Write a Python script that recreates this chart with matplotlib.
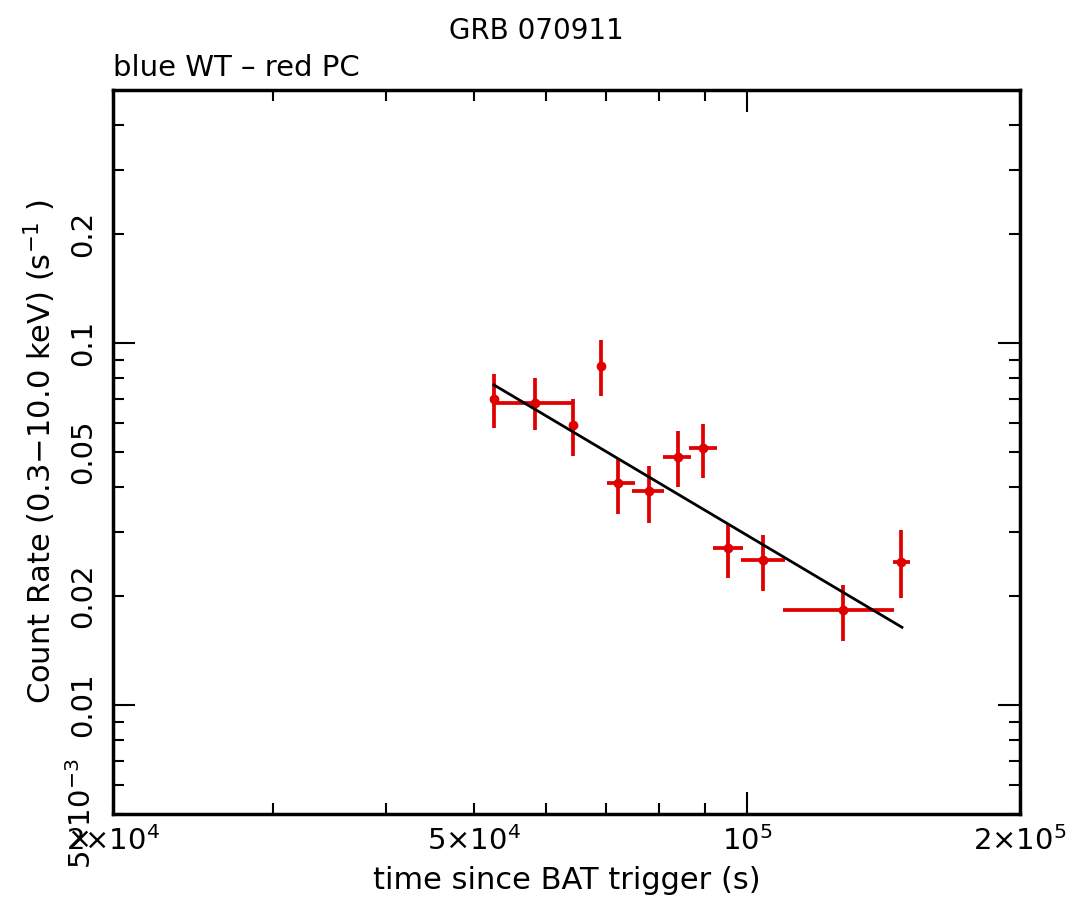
import matplotlib
matplotlib.use("Agg")
import matplotlib.pyplot as plt
from matplotlib.ticker import FixedLocator, NullFormatter
import numpy as np

plt.rcParams['font.family'] = ['DejaVu Sans']
plt.rcParams['mathtext.fontset'] = 'dejavusans'

# PC data: time since trigger (s), bin edges, count rate and its limits
t = [52600, 58400, 64300, 69000, 72100, 78000, 84000, 89500, 95300, 104200, 127600, 147800]
t_lo = [52100, 52600, 63800, 68500, 70100, 74700, 80800, 86300, 91800, 98500, 109600, 144900]
t_hi = [53100, 64300, 64800, 69500, 75300, 81000, 86800, 92700, 99000, 110100, 145200, 151300]
rate = [0.0701, 0.0684, 0.0595, 0.0864, 0.0411, 0.0389, 0.0485, 0.0514, 0.0271, 0.0251, 0.0183, 0.0249]
rate_lo = [0.0583, 0.0576, 0.0488, 0.0715, 0.0338, 0.0319, 0.0399, 0.0425, 0.0224, 0.0207, 0.0150, 0.0197]
rate_hi = [0.0822, 0.0801, 0.0701, 0.1019, 0.0479, 0.0458, 0.0572, 0.0598, 0.0317, 0.0294, 0.0215, 0.0305]

# power-law fit end points
fit_t = [52600, 148200]
fit_rate = [0.0766, 0.0164]

xlab_vals = [2e4, 5e4, 1e5, 2e5]
xlab_txt = [r'2×10$^{4}$', r'5×10$^{4}$', r'10$^{5}$', r'2×10$^{5}$']
ylab_vals = [0.005, 0.01, 0.02, 0.05, 0.1, 0.2]
ylab_txt = [r'5×10$^{-3}$', '0.01', '0.02', '0.05', '0.1', '0.2']

t = np.array(t); rate = np.array(rate)
xerr = [t - np.array(t_lo), np.array(t_hi) - t]
yerr = [rate - np.array(rate_lo), np.array(rate_hi) - rate]

fig = plt.figure(figsize=(10.72, 8.99), dpi=100)
ax = fig.add_axes([0.1054, 0.0945, 0.8461, 0.8055])

ax.errorbar(t, rate, xerr=xerr, yerr=yerr, fmt='o', color='#e00000', ms=6,
            elinewidth=2.7, capsize=0, zorder=3)
ax.plot(fit_t, fit_rate, color='black', lw=2, zorder=4)

ax.set_xscale('log')
ax.set_yscale('log')
ax.set_xlim(2e4, 2e5)
ax.set_ylim(5e-3, 0.5)

ax.xaxis.set_major_locator(FixedLocator([1e5]))
ax.xaxis.set_minor_locator(FixedLocator([2e4, 3e4, 4e4, 5e4, 6e4, 7e4, 8e4, 9e4, 2e5]))
ax.xaxis.set_major_formatter(NullFormatter())
ax.xaxis.set_minor_formatter(NullFormatter())
ax.yaxis.set_major_locator(FixedLocator([0.01, 0.1]))
ax.yaxis.set_minor_locator(FixedLocator([0.005, 0.006, 0.007, 0.008, 0.009, 0.02, 0.03, 0.04,
                                         0.05, 0.06, 0.07, 0.08, 0.09, 0.2, 0.3, 0.4]))
ax.yaxis.set_major_formatter(NullFormatter())
ax.yaxis.set_minor_formatter(NullFormatter())
ax.tick_params(which='both', direction='in', top=True, right=True, width=1.5)
ax.tick_params(which='major', length=16)
ax.tick_params(which='minor', length=8)
for s in ax.spines.values():
    s.set_linewidth(2.5)

for v, s in zip(xlab_vals, xlab_txt):
    ax.text(v, -0.016, s, transform=ax.get_xaxis_transform(), ha='center', va='top', fontsize=21)
for v, s in zip(ylab_vals, ylab_txt):
    ax.text(-0.018, v, s, transform=ax.get_yaxis_transform(), ha='center', va='bottom',
            rotation=90, rotation_mode='anchor', fontsize=21)

ax.set_xlabel('time since BAT trigger (s)', fontsize=22, labelpad=34)
ax.set_ylabel(r'Count Rate (0.3$-$10.0 keV) (s$^{-1}$ )', fontsize=22, labelpad=36)
fig.text(0.5, 0.965, 'GRB 070911', ha='center', va='center', fontsize=20)
fig.text(0.1054, 0.924, 'blue WT – red PC', ha='left', va='center', fontsize=21)

fig.savefig('out.png', dpi=100)
